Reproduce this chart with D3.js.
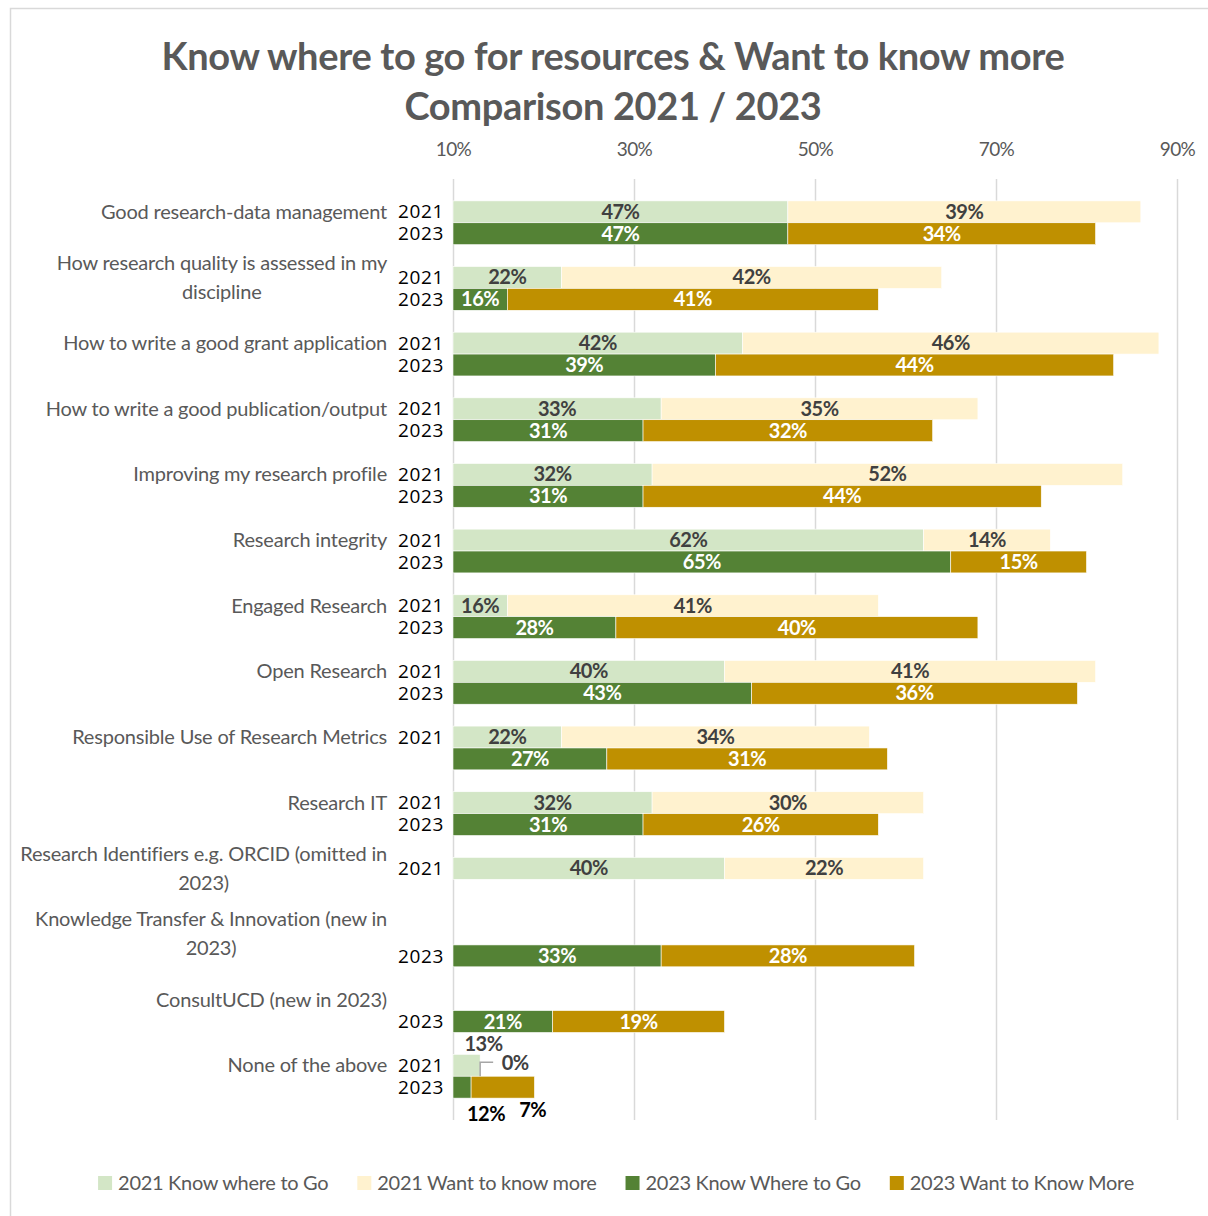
<!DOCTYPE html>
<html>
<head>
<meta charset="utf-8">
<script src="https://cdn.jsdelivr.net/npm/d3@7"></script>
<style>
  html, body { margin: 0; padding: 0; background: #fff; }
  svg { display: block; }
</style>
</head>
<body>
<svg id="chart" width="1208" height="1216"></svg>
<script>
// Survey topics, one group of bars per topic
const categories = [
  "Good research-data management",
  "How research quality is assessed in my discipline",
  "How to write a good grant application",
  "How to write a good publication/output",
  "Improving my research profile",
  "Research integrity",
  "Engaged Research",
  "Open Research",
  "Responsible Use of Research Metrics",
  "Research IT",
  "Research Identifiers e.g. ORCID (omitted in 2023)",
  "Knowledge Transfer & Innovation (new in 2023)",
  "ConsultUCD (new in 2023)",
  "None of the above"
];

// Percentages per topic (null = topic not asked that year)
const know2021 = [47, 22, 42, 33, 32, 62, 16, 40, 22, 32, 40, null, null, 13];
const want2021 = [39, 42, 46, 35, 52, 14, 41, 41, 34, 30, 22, null, null, 0];
const know2023 = [47, 16, 39, 31, 31, 65, 28, 43, 27, 31, null, 33, 21, 12];
const want2023 = [34, 41, 44, 32, 44, 15, 40, 36, 31, 26, null, 28, 19, 7];

// Year labels printed beside each group
const yearLabels = [
  ["2021", "2023"], ["2021", "2023"], ["2021", "2023"], ["2021", "2023"],
  ["2021", "2023"], ["2021", "2023"], ["2021", "2023"], ["2021", "2023"],
  ["2021"], ["2021", "2023"], ["2021"], ["2023"], ["2023"], ["2021", "2023"]
];

const xTicks = [10, 30, 50, 70, 90];

const seriesNames = [
  "2021 Know where to Go",
  "2021 Want to know more",
  "2023 Know Where to Go",
  "2023 Want to Know More"
];

const colors = {
  "2021 Know where to Go": "#d3e6c6",
  "2021 Want to know more": "#fff2cf",
  "2023 Know Where to Go": "#548235",
  "2023 Want to Know More": "#bf9000"
};

const svg = d3.select("#chart");
const FONT = "Lato, 'Open Sans', sans-serif";

// Frame
svg.append("rect")
  .attr("x", 10.5).attr("y", 8.5)
  .attr("width", 1220).attr("height", 1230)
  .attr("fill", "#fff").attr("stroke", "#d9d9d9").attr("stroke-width", 1.5);

// Title
const title = svg.append("text")
  .attr("text-anchor", "middle")
  .attr("font-family", FONT).attr("font-weight", 700)
  .attr("font-size", 38).attr("fill", "#595959")
  .attr("letter-spacing", -0.35);
title.append("tspan").attr("x", 613).attr("y", 70)
  .text("Know where to go for resources & Want to know more");
title.append("tspan").attr("x", 613).attr("y", 120)
  .text("Comparison 2021 / 2023");

// Scales
const plotTop = 179, plotBottom = 1120;
const slot = (plotBottom - plotTop) / 43;
const x = d3.scaleLinear().domain([10, 90]).range([453, 1177]).clamp(true);
const yGroup = d3.scaleBand().domain(categories)
  .range([plotTop + slot, plotBottom]).padding(0);
const yYear = d3.scaleBand().domain(["2021", "2023", "gap"])
  .range([0, yGroup.bandwidth()]).padding(0);

// Gridlines
svg.append("g")
  .attr("transform", `translate(0,${plotBottom})`)
  .call(d3.axisBottom(x).tickValues(xTicks).tickFormat("")
    .tickSize(-(plotBottom - plotTop)))
  .call(g => g.select(".domain").remove())
  .call(g => g.selectAll("line").attr("stroke", "#d9d9d9").attr("stroke-width", 1.5));

// Top axis labels
svg.append("g")
  .attr("transform", "translate(0,156)")
  .call(d3.axisTop(x).tickValues(xTicks).tickFormat(d => d + "%")
    .tickSize(0).tickPadding(0))
  .call(g => g.select(".domain").remove())
  .call(g => g.selectAll("text")
    .attr("font-family", FONT).attr("font-size", 19)
    .attr("fill", "#595959").attr("letter-spacing", -0.6));

// Stacked rows
const rows = [];
categories.forEach((c, i) => {
  [["2021", know2021[i], want2021[i], seriesNames[0], seriesNames[1]],
   ["2023", know2023[i], want2023[i], seriesNames[2], seriesNames[3]]]
  .forEach(([yr, k, w, kName, wName]) => {
    if (k == null) return;
    const stack = d3.stack().keys(["know", "want"])([{ know: k, want: w }]);
    rows.push({ cat: c, idx: i, year: yr, segments: [
      { name: kName, value: k, x0: stack[0][0][0], x1: stack[0][0][1] },
      { name: wName, value: w, x0: stack[1][0][0], x1: stack[1][0][1] }
    ]});
  });
});

const barsG = svg.append("g");
const labelsG = svg.append("g");

// Placement overrides for the crowded "None of the above" labels
const labelNudge = {
  "13|2021 Know where to Go": { dx: 17, dy: -21, fill: "#404040" },
  "13|2021 Want to know more": { dx: 35, dy: -2, fill: "#404040", leader: true },
  "13|2023 Know Where to Go": { dx: 24, dy: 27, fill: "#000" },
  "13|2023 Want to Know More": { dx: 30, dy: 23, fill: "#000" }
};

rows.forEach(r => {
  const y0 = yGroup(r.cat) + yYear(r.year);
  const h = yYear.bandwidth();
  r.segments.forEach(s => {
    const xa = x(s.x0), xb = x(s.x1);
    if (xb - xa > 0) {
      barsG.append("rect")
        .attr("x", xa).attr("y", y0)
        .attr("width", xb - xa).attr("height", h)
        .attr("fill", colors[s.name])
        .attr("stroke", "#fff").attr("stroke-width", 0.6);
    }
    const cx = (xa + xb) / 2, cy = y0 + h / 2;
    const nudge = labelNudge[r.idx + "|" + s.name];
    const is2023 = r.year === "2023";
    let lx = cx, ly = cy, fill = is2023 ? "#ffffff" : "#404040";
    if (nudge) {
      lx = cx + nudge.dx; ly = cy + nudge.dy; fill = nudge.fill;
      if (nudge.leader) {
        labelsG.append("path")
          .attr("d", `M${xb},${y0 + h} V${ly - 1} H${lx - 22}`)
          .attr("fill", "none").attr("stroke", "#a6a6a6").attr("stroke-width", 1.5);
      }
    }
    labelsG.append("text")
      .attr("x", lx).attr("y", ly).attr("dy", "0.35em")
      .attr("text-anchor", "middle")
      .attr("font-family", FONT).attr("font-weight", 700)
      .attr("font-size", 20).attr("letter-spacing", -0.5)
      .attr("fill", fill)
      .text(s.value + "%");
  });
});

// Year labels
categories.forEach((c, i) => {
  yearLabels[i].forEach(yr => {
    svg.append("text")
      .attr("x", 421).attr("y", yGroup(c) + yYear(yr) + yYear.bandwidth() / 2)
      .attr("dy", "0.35em").attr("text-anchor", "middle")
      .attr("font-family", "'Open Sans', sans-serif").attr("font-size", 19)
      .attr("letter-spacing", 0.6)
      .attr("fill", "#000").text(yr);
  });
});

// Category labels, wrapped and right-aligned as a block
const catG = svg.append("g")
  .attr("font-family", FONT).attr("font-size", 20)
  .attr("fill", "#595959").attr("letter-spacing", -0.2);
const maxW = 376, lineH = 29, rightEdge = 387;
categories.forEach((c, i) => {
  const t = catG.append("text").attr("text-anchor", "middle");
  const words = c.split(" ");
  const lines = [];
  let cur = [];
  const probe = catG.append("text");
  words.forEach(w => {
    const test = cur.concat(w).join(" ");
    probe.text(test);
    if (probe.node().getComputedTextLength() > maxW && cur.length) {
      lines.push(cur.join(" "));
      cur = [w];
    } else cur.push(w);
  });
  lines.push(cur.join(" "));
  let blockW = 0;
  lines.forEach(l => { probe.text(l); blockW = Math.max(blockW, probe.node().getComputedTextLength()); });
  probe.remove();
  const cy = yGroup(c) + yYear("2021") + yYear.bandwidth() / 2;
  const startY = cy - (lines.length - 1) * lineH / 2;
  lines.forEach((l, j) => {
    t.append("tspan").attr("x", rightEdge - blockW / 2)
      .attr("y", startY + j * lineH).attr("dy", "0.35em").text(l);
  });
});

// Legend
const legend = svg.append("g")
  .attr("font-family", FONT).attr("font-size", 20)
  .attr("fill", "#595959").attr("letter-spacing", -0.3);
let lx = 0;
seriesNames.forEach(n => {
  const g = legend.append("g");
  g.append("rect").attr("x", 0).attr("y", -7).attr("width", 14).attr("height", 14)
    .attr("fill", colors[n]);
  const tx = g.append("text").attr("x", 20).attr("dy", "0.35em").text(n);
  const w = 20 + tx.node().getComputedTextLength();
  g.attr("transform", `translate(${lx},1183)`);
  lx += w + 29;
});
const totalW = lx - 29;
legend.attr("transform", `translate(${616 - totalW / 2},0)`);
</script>
</body>
</html>
